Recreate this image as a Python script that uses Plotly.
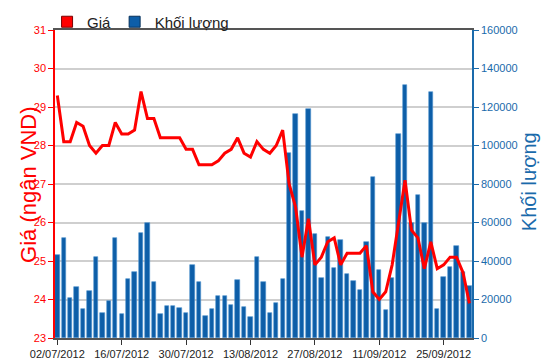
import plotly.graph_objects as go

# ---- data ----
dates = ["02/07/2012", "16/07/2012", "30/07/2012", "13/08/2012",
         "27/08/2012", "11/09/2012", "25/09/2012"]
tick_pos = [0, 10, 20, 30, 40, 50, 60]

price = [29.3, 28.1, 28.1, 28.6, 28.5, 28.0, 27.8, 28.0, 28.0, 28.6,
         28.3, 28.3, 28.4, 29.4, 28.7, 28.7, 28.2, 28.2, 28.2, 28.2,
         27.9, 27.9, 27.5, 27.5, 27.5, 27.6, 27.8, 27.9, 28.2, 27.8,
         27.7, 28.1, 27.9, 27.8, 28.0, 28.4, 27.0, 26.4, 25.1, 26.1,
         24.9, 25.1, 25.5, 25.6, 24.9, 25.2, 25.2, 25.2, 25.4, 24.2,
         24.0, 24.2, 24.9, 26.0, 27.1, 25.8, 25.6, 24.8, 25.5, 24.8,
         24.9, 25.1, 25.1, 24.7, 23.9]

volume = [43000, 51900, 20800, 26300, 14900, 24600, 42300, 13000, 19400, 51900,
          12500, 30800, 34100, 54500, 59700, 29000, 12500, 16600, 16600, 15400,
          13000, 37800, 29000, 11600, 14900, 21800, 21800, 17100, 30100, 15900,
          10900, 42300, 29000, 13000, 18000, 30800, 96000, 116200, 66000, 119000,
          53800, 31000, 52600, 36500, 51100, 33000, 29500, 25000, 49900, 83400,
          35200, 14700, 31300, 105900, 131300, 60000, 74500, 60000, 127600, 15300,
          31500, 37100, 47600, 34400, 26800]

idx = list(range(len(price)))

RED = "#ff0000"
BLUE = "#0d5ea8"
BLUE_TXT = "#1a6aab"
FONT = "Liberation Sans, Arial, sans-serif"

fig = go.Figure()

fig.add_trace(go.Bar(
    x=idx, y=volume, yaxis="y", width=0.68,
    marker=dict(color=BLUE, line=dict(color="#4f93d0", width=0.6)),
    showlegend=False, hoverinfo="skip"))

fig.add_trace(go.Scatter(
    x=idx, y=price, yaxis="y2", mode="lines",
    line=dict(color=RED, width=3), showlegend=False, hoverinfo="skip"))

# legend entries
fig.add_trace(go.Scatter(
    x=[None], y=[None], yaxis="y2", mode="markers", name="Giá", legend="legend",
    marker=dict(symbol="square", size=11, color=RED, line=dict(color="#7a0000", width=1))))
fig.add_trace(go.Scatter(
    x=[None], y=[None], yaxis="y2", mode="markers", name="Khối lượng", legend="legend2",
    marker=dict(symbol="square", size=11, color=BLUE, line=dict(color="#06305a", width=1))))

leg_common = dict(orientation="h", xanchor="left", y=1.026, yanchor="middle",
                  font=dict(family=FONT, size=15, color="#222"),
                  bgcolor="rgba(0,0,0,0)", itemwidth=30, tracegroupgap=0)

fig.update_layout(
    width=550, height=364,
    margin=dict(l=55, r=78, t=30, b=26, autoexpand=False),
    paper_bgcolor="white", plot_bgcolor="white",
    bargap=0,
    showlegend=True,
    legend=dict(x=-0.019, **leg_common),
    legend2=dict(x=0.143, **leg_common),
    xaxis=dict(range=[-0.36, 64.4], tickmode="array", tickvals=tick_pos, ticktext=dates,
               ticks="outside", ticklen=5, tickcolor="#333", tickwidth=1,
               showline=True, linecolor="#555", linewidth=2, mirror=True,
               showgrid=False, zeroline=False, automargin=False,
               tickfont=dict(family=FONT, size=11, color="#222")),
    yaxis=dict(side="right", range=[0, 160000], tickmode="linear", tick0=0, dtick=20000,
               tickformat="d", showline=True, linecolor=BLUE_TXT, linewidth=1.5,
               ticks="outside", ticklen=5, tickcolor=BLUE_TXT, automargin=False,
               tickfont=dict(family=FONT, size=11, color=BLUE_TXT),
               showgrid=True, gridcolor="#cfcfcf", gridwidth=2, zeroline=False),
    yaxis2=dict(overlaying="y", side="left", range=[23, 31], tickmode="linear", tick0=23, dtick=1,
                showline=True, linecolor=RED, linewidth=1.5, automargin=False,
                ticks="outside", ticklen=5, tickcolor=RED,
                tickfont=dict(family=FONT, size=11, color=RED),
                showgrid=False, zeroline=False),
    annotations=[
        dict(text="Giá (ngân VND)", textangle=-90, xref="paper", yref="paper",
             x=(29 - 55) / 417, y=0.497, xanchor="center", yanchor="middle", showarrow=False,
             font=dict(family=FONT, size=22, color=RED)),
        dict(text="Khối lượng", textangle=-90, xref="paper", yref="paper",
             x=(529 - 55) / 417, y=0.506, xanchor="center", yanchor="middle", showarrow=False,
             font=dict(family=FONT, size=20, color=BLUE_TXT)),
    ],
)

fig.write_html("out.html", config={"displayModeBar": False},
               post_script="document.body.style.margin='0px';document.body.style.overflow='hidden';")
